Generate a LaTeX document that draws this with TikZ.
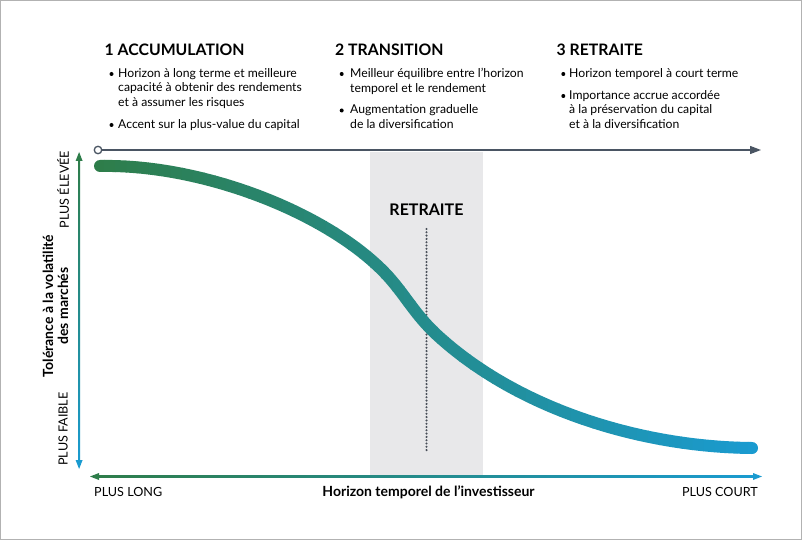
\documentclass[tikz,border=0pt]{standalone}
\usepackage{fontspec}
\setmainfont{Lato}
\usetikzlibrary{arrows.meta}
\definecolor{cgreen}{RGB}{46,125,74}
\definecolor{cblue}{RGB}{26,155,208}
\definecolor{axisgray}{RGB}{74,85,99}
\definecolor{dotgray}{RGB}{72,78,88}
\definecolor{bandgray}{RGB}{232,232,234}
\definecolor{framegray}{RGB}{178,178,178}
\begin{document}
\begin{tikzpicture}[x=1pt,y=-1pt,
  heading/.style={anchor=west, inner sep=0, font=\bfseries\fontsize{15.8}{19}\selectfont},
  btext/.style={anchor=north west, inner sep=0, align=left, font=\fontsize{12.2}{14.5}\selectfont},
  bdot/.style={circle, fill=black, inner sep=0, minimum size=4pt},
  axlabel/.style={inner sep=0, font=\fontsize{12.6}{14}\selectfont},
  axtitle/.style={inner sep=0, font=\bfseries\fontsize{14}{15}\selectfont},
  curvestyle/.style={line width=12pt, line cap=round},
]
\useasboundingbox (0,0) rectangle (802,540);
\fill[white] (0,0) rectangle (802,540);
\draw[framegray, line width=1pt] (0.5,0.5) rectangle (801.5,539.5);

% retirement band
\fill[bandgray] (370,152) rectangle (482.5,475);

% headings
\node[heading] (h1) at (104.5,49.5) {1 ACCUMULATION};
\node[heading] (h2) at (335,49.5) {2 TRANSITION};
\node[heading] (h3) at (556.5,49.5) {3 RETRAITE};

% column 1
\node[bdot] (d11) at (111.5,74) {};
\node[btext] (t11) at (118,68) {Horizon à long terme et meilleure\\capacité à obtenir des rendements\\et à assumer les risques};
\node[bdot] (d12) at (111.5,125) {};
\node[btext] (t12) at (118,119) {Accent sur la plus-value du capital};

% column 2
\node[bdot] (d21) at (341.7,74) {};
\node[btext] (t21) at (350,68) {Meilleur équilibre entre l’horizon\\temporel et le rendement};
\node[bdot] (d22) at (341.7,110.5) {};
\node[btext] (t22) at (350,104.5) {Augmentation graduelle\\de la diversification};

% column 3
\node[bdot] (d31) at (563.3,74) {};
\node[btext] (t31) at (569,68) {Horizon temporel à court terme};
\node[bdot] (d32) at (563.3,96) {};
\node[btext] (t32) at (569,90) {Importance accrue accordée\\à la préservation du capital\\et à la diversification};

% top axis
\node[circle, draw=axisgray, fill=white, line width=1.3pt, inner sep=0, minimum size=7.5pt] (o) at (98,150) {};
\coordinate (topend) at (761,150);
\draw[axisgray, line width=1.3pt, -{Triangle[length=11pt,width=8pt]}] (o.east) -- (topend);

% vertical axis (gradient)
\shade[top color=cgreen, bottom color=cblue] (78,158) rectangle (80.2,462);
\fill[cgreen] (79.1,152) -- (82.6,161) -- (75.6,161) -- cycle;
\fill[cblue] (79.1,469) -- (82.6,460) -- (75.6,460) -- cycle;

% horizontal axis (gradient)
\shade[left color=cgreen, right color=cblue] (98,475.4) rectangle (754,477.6);
\fill[cgreen] (90,476.5) -- (99,473) -- (99,480) -- cycle;
\fill[cblue] (762,476.5) -- (753,473) -- (753,480) -- cycle;

% retirement marker
\node[inner sep=0, font=\bfseries\fontsize{16}{19}\selectfont] (ret) at (426.5,209.5) {RETRAITE};
\coordinate (dtop) at (426.5,229);
\coordinate (dbot) at (426.5,451);
\draw[dotgray, line width=2.3pt, line cap=round, dash pattern=on 0pt off 3.3pt] (dtop) -- (dbot);

% curve with horizontal colour gradient
\def\curvepath{(100,166) .. controls (200,164) and (320,210) .. (380,268) .. controls (403,290) and (412,312) .. (437,335) .. controls (517,408.6) and (640,447) .. (752,448)}
\foreach \i in {0,...,59}{
  \pgfmathsetmacro{\xa}{93+11.1*\i}
  \pgfmathsetmacro{\xb}{\xa+11.6}
  \pgfmathsetmacro{\pc}{100*\i/59}
  \begin{scope}
    \clip (\xa,150) rectangle (\xb,460);
    \draw[curvestyle, draw=cblue!\pc!cgreen] \curvepath;
  \end{scope}
}

% axis labels
\node[axlabel, rotate=90] (hi) at (63,189.5) {PLUS ÉLEVÉE};
\node[axlabel, rotate=90] (lo) at (63,429) {PLUS FAIBLE};
\node[axtitle, rotate=90, align=center] (ytitle) at (55.5,306) {Tolérance à la volatilité\\des marchés};

\node[axlabel, anchor=west] (long) at (94,492) {PLUS LONG};
\node[axlabel, anchor=east] (court) at (758,492) {PLUS COURT};
\node[axtitle] (xtitle) at (428.5,492) {Horizon temporel de l’investisseur};
\end{tikzpicture}
\end{document}
